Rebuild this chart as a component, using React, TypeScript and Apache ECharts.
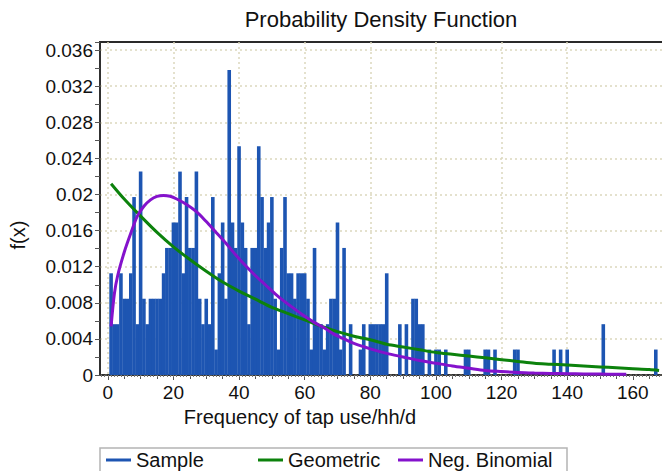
import React, { useEffect, useRef } from 'react';
import * as echarts from 'echarts';

// ---- data ----
const sampleX = [
  1, 2, 3, 4, 5, 6, 7, 8, 9, 10,
  11, 12, 13, 14, 15, 16, 17, 18, 19, 20,
  21, 22, 23, 24, 25, 26, 27, 28, 29, 30,
  31, 32, 33, 34, 35, 36, 37, 38, 39, 40,
  41, 42, 43, 44, 45, 46, 47, 48, 49, 50,
  51, 52, 53, 54, 55, 56, 57, 58, 59, 60,
  61, 62, 63, 64, 65, 66, 67, 68, 69, 70,
  71, 72, 74, 77, 78, 80, 81, 82, 83, 84,
  85, 89, 91, 93, 94, 95, 96, 98, 100, 101,
  103, 109, 110, 115, 116, 118, 124, 125, 136, 138,
  140, 151, 167,
];
const sampleDensity = [
  0.01127, 0.00563, 0.00563, 0.01127, 0.00845, 0.00845, 0.01127, 0.01972, 0.00563, 0.02254,
  0.00845, 0.00563, 0.00845, 0.00845, 0.00845, 0.00845, 0.01127, 0.01408, 0.01408, 0.0169,
  0.0169, 0.02254, 0.01127, 0.01972, 0.01408, 0.01408, 0.02254, 0.00845, 0.00563, 0.00845,
  0.00563, 0.01972, 0.00282, 0.01127, 0.0169, 0.00845, 0.0338, 0.0169, 0.01408, 0.02535,
  0.0169, 0.01408, 0.00563, 0.01408, 0.01408, 0.02535, 0.01972, 0.01408, 0.0169, 0.01972,
  0.00845, 0.00282, 0.01408, 0.01972, 0.01127, 0.01127, 0.00845, 0.01127, 0.01127, 0.01127,
  0.00845, 0.00282, 0.01408, 0.00563, 0.00563, 0.00282, 0.00563, 0.00845, 0.00845, 0.0169,
  0.00282, 0.01408, 0.00563, 0.00282, 0.00563, 0.00563, 0.00563, 0.00563, 0.00563, 0.00563,
  0.01127, 0.00563, 0.00563, 0.00845, 0.00845, 0.00563, 0.00563, 0.00282, 0.00282, 0.00282,
  0.00282, 0.00282, 0.00282, 0.00282, 0.00282, 0.00282, 0.00282, 0.00282, 0.00282, 0.00282,
  0.00282, 0.00563, 0.00282,
];

const geomX = [1, 5, 10, 15, 20, 25, 30, 35, 40, 45, 50, 55, 60, 65, 70, 75, 80, 85, 90, 95,
  100, 105, 110, 115, 120, 125, 130, 135, 140, 145, 150, 155, 160, 165, 168];
const geomY = [0.0212, 0.0195, 0.0176, 0.0158, 0.0142, 0.0128, 0.0115, 0.0103, 0.0093, 0.0084,
  0.0075, 0.0068, 0.0061, 0.0054, 0.0048, 0.0043, 0.0039, 0.0034, 0.0031, 0.0028,
  0.0025, 0.0023, 0.0021, 0.0019, 0.0017, 0.0015, 0.0013, 0.0012, 0.0011, 0.001,
  0.0009, 0.0008, 0.0007, 0.0006, 0.0005];

const negBinX = [1, 2, 3, 5, 7, 9, 11, 13, 15, 17, 19, 21, 24, 27, 30, 33, 36, 39, 42, 45,
  48, 51, 54, 57, 60, 63, 66, 69, 72, 75, 80, 85, 90, 95, 100, 105, 110, 115, 120, 125,
  130, 135, 140, 145, 150, 155, 158];
const negBinY = [0.0054, 0.009, 0.011, 0.0136, 0.0157, 0.0176, 0.0187, 0.0194, 0.0198, 0.0199,
  0.0198, 0.0195, 0.0189, 0.0181, 0.017, 0.0158, 0.0146, 0.0133, 0.0121, 0.011,
  0.01, 0.009, 0.0081, 0.0073, 0.0065, 0.0058, 0.0052, 0.0045, 0.004, 0.0035,
  0.0029, 0.0024, 0.002, 0.0016, 0.0013, 0.001, 0.00075, 0.0005, 0.00038, 0.00028,
  0.00022, 0.00018, 0.00015, 0.00012, 0.0001, 0.00008, 0.00007];

const xTickLabels = [0, 20, 40, 60, 80, 100, 120, 140, 160];
const seriesNames = ['Sample', 'Geometric', 'Neg. Binomial'];
const seriesColors = ['#1d55b2', '#0c820c', '#8412cc'];

const X_MIN = -2.38;
const X_MAX = 169.5;
const Y_MAX = 0.0369;

const FONT = '"Liberation Sans", Arial, sans-serif';

export default function App() {
  const ref = useRef<HTMLDivElement>(null);

  useEffect(() => {
    if (!ref.current) return;
    const chart = echarts.init(ref.current, null, { renderer: 'svg' });

    const fives: number[] = [];
    for (let v = 0; v <= 165; v += 5) fives.push(v);
    const ones: number[] = [];
    for (let v = -2; v <= 169; v += 1) ones.push(v);

    const gridLine = {
      show: true,
      showMaxLine: false,
      lineStyle: { color: '#dcd8bd', width: 1.5, type: [2, 3] as any },
    };

    const legendCommon = {
      top: 450,
      padding: 0,
      icon: 'rect',
      itemWidth: 25,
      itemHeight: 3,
      itemGap: 0,
      textStyle: { fontSize: 20, color: '#111', fontFamily: FONT },
    };

    chart.setOption({
      animation: false,
      backgroundColor: '#ffffff',
      textStyle: { fontFamily: FONT },
      title: {
        text: 'Probability Density Function',
        left: 381,
        top: 8,
        textAlign: 'center',
        padding: 0,
        textStyle: { fontSize: 22, fontWeight: 'normal', color: '#111', fontFamily: FONT },
      },
      legend: [
        { ...legendCommon, data: [seriesNames[0]], left: 106 },
        { ...legendCommon, data: [seriesNames[1]], left: 258 },
        { ...legendCommon, data: [seriesNames[2]], left: 398 },
      ],
      grid: {
        left: 100,
        right: -2,
        top: 42,
        bottom: 96,
        show: true,
        borderColor: '#2a2a2a',
        borderWidth: 2,
        backgroundColor: '#fff',
        containLabel: false,
        outerBoundsMode: 'none',
      },
      xAxis: [
        {
          type: 'value',
          min: X_MIN,
          max: X_MAX,
          position: 'bottom',
          axisLine: { show: true, onZero: false, lineStyle: { color: '#333', width: 1.5 } },
          axisTick: { show: true, length: 5, customValues: xTickLabels, lineStyle: { color: '#555' } },
          axisLabel: { customValues: xTickLabels, fontSize: 19, color: '#111', margin: 8, fontFamily: FONT },
          splitLine: gridLine,
          name: 'Frequency of tap use/hh/d',
          nameLocation: 'middle',
          nameGap: 25,
          nameTextStyle: { fontSize: 20, color: '#111', fontFamily: FONT, padding: [0, 164, 0, 0] },
        },
        {
          type: 'value',
          min: X_MIN,
          max: X_MAX,
          position: 'bottom',
          axisLine: { show: false, onZero: false },
          axisTick: { show: true, length: 4, customValues: fives, lineStyle: { color: '#555' } },
          axisLabel: { show: false },
          splitLine: { show: false },
        },
        {
          type: 'value',
          min: X_MIN,
          max: X_MAX,
          position: 'bottom',
          axisLine: { show: false, onZero: false },
          axisTick: { show: true, length: 2, customValues: ones, lineStyle: { color: '#777' } },
          axisLabel: { show: false },
          splitLine: { show: false },
        },
      ],
      yAxis: {
        type: 'value',
        min: 0,
        max: Y_MAX,
        interval: 0.004,
        axisLine: { show: true, onZero: false, lineStyle: { color: '#333', width: 1.5 } },
        axisTick: { show: true, length: 5, lineStyle: { color: '#555' } },
        minorTick: { show: true, splitNumber: 2, length: 5, lineStyle: { color: '#555' } },
        axisLabel: {
          fontSize: 19,
          color: '#111',
          margin: 7,
          showMaxLabel: false,
          fontFamily: FONT,
          formatter: (v: number) => String(parseFloat(v.toFixed(3))),
        },
        splitLine: gridLine,
        name: 'f(x)',
        nameLocation: 'middle',
        nameRotate: 90,
        nameGap: 72,
        nameTextStyle: { fontSize: 20, color: '#111', fontFamily: FONT, padding: [0, 53, 0, 0] },
      },
      series: [
        {
          name: seriesNames[0],
          type: 'bar',
          barWidth: 3.6,
          itemStyle: { color: seriesColors[0] },
          data: sampleX.map((x, i) => [x, sampleDensity[i]]),
        },
        {
          name: seriesNames[1],
          type: 'line',
          showSymbol: false,
          smooth: 0.3,
          itemStyle: { color: seriesColors[1] },
          lineStyle: { color: seriesColors[1], width: 3 },
          data: geomX.map((x, i) => [x, geomY[i]]),
        },
        {
          name: seriesNames[2],
          type: 'line',
          showSymbol: false,
          smooth: 0.3,
          itemStyle: { color: seriesColors[2] },
          lineStyle: { color: seriesColors[2], width: 3 },
          data: negBinX.map((x, i) => [x, negBinY[i]]),
        },
      ],
      graphic: [
        {
          type: 'rect',
          x: 100,
          y: 448,
          shape: { width: 467, height: 30 },
          style: { fill: 'none', stroke: '#b4b4b4', lineWidth: 1.5 },
          silent: true,
        },
      ],
    });

    return () => chart.dispose();
  }, []);

  return (
    <div
      ref={ref}
      style={{ position: 'fixed', left: 0, top: 0, width: 662, height: 471, background: '#fff' }}
    />
  );
}
